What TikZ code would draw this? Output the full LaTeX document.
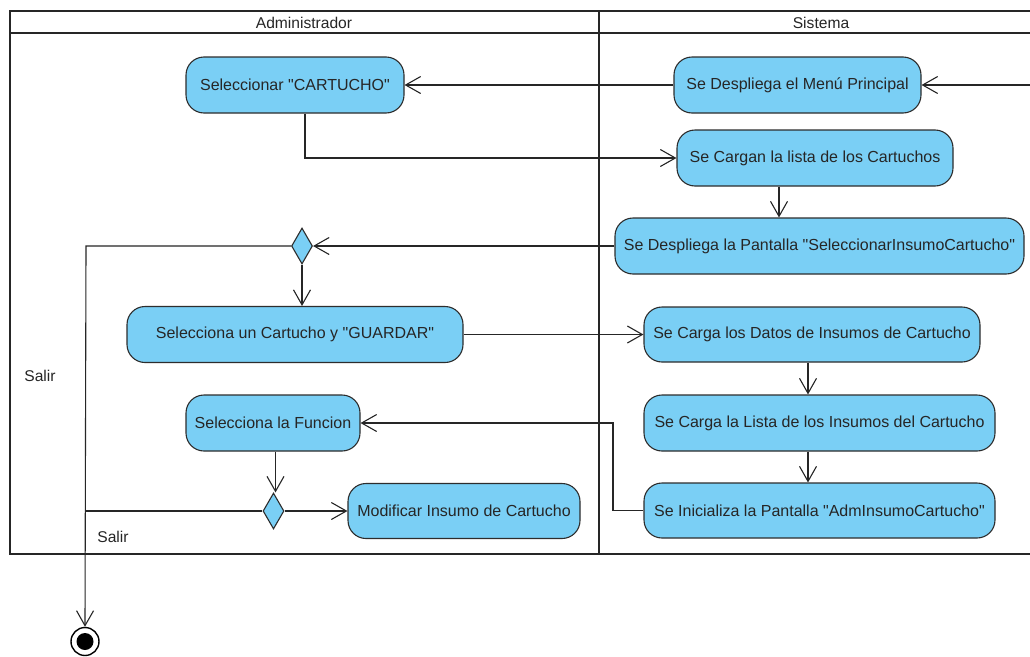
\documentclass[tikz,border=0pt]{standalone}
\usepackage{fontspec}
\setmainfont{Liberation Sans}[Ligatures=TeXOff]
\usetikzlibrary{arrows.meta,shapes.geometric}
\definecolor{actfill}{RGB}{122,207,245}
\definecolor{actdraw}{RGB}{45,45,45}
\newcommand{\dq}{\char"22\relax}
\begin{document}
\begin{tikzpicture}[x=1pt,y=-1pt,
  lane/.style={line width=2.6pt,black!85},
  act/.style={rounded corners=18pt,draw=actdraw,fill=actfill,line width=1.1pt,
    minimum height=56pt,inner sep=0pt,font=\fontsize{16}{19}\selectfont,text=black!85},
  dec/.style={diamond,draw=actdraw,fill=actfill,line width=1.1pt,inner sep=0pt,
    minimum width=21pt,minimum height=36pt,aspect=0.58},
  flow/.style={line width=1.1pt,black!85,-{Straight Barb[length=15pt,width=17pt,line width=1.1pt]}},
  plain/.style={line width=1.1pt,black!85},
  lbl/.style={font=\fontsize{15.6}{18}\selectfont,text=black!85,inner sep=0pt}]
\useasboundingbox (0,0) rectangle (1030,656);
\fill[white] (0,0) rectangle (1030,656);
% swimlanes
\draw[lane] (1030,11) -- (10,11) -- (10,554) -- (1030,554);
\draw[lane] (10,33) -- (1030,33);
\draw[lane] (599,11) -- (599,554);
\node[lbl] (hadm) at (304,23) {Administrador};
\node[lbl] (hsis) at (821,23) {Sistema};
% activities
\node[act,minimum width=218pt] (selcart) at (295,85) {Seleccionar \dq CARTUCHO\dq};
\node[act,minimum width=247pt] (menu) at (797.5,85) {Se Despliega el Menú Principal};
\node[act,minimum width=276pt] (cargan) at (815,158) {Se Cargan la lista de los Cartuchos};
\node[act,minimum width=409pt] (pantsel) at (819.5,246) {Se Despliega la Pantalla \dq SeleccionarInsumoCartucho\dq};
\node[dec] (d1) at (302,246) {};
\node[act,minimum width=336pt] (guardar) at (295,334.5) {Selecciona un Cartucho y \dq GUARDAR\dq};
\node[act,minimum width=336pt,minimum height=55pt] (datos) at (812,334.5) {Se Carga los Datos de Insumos de Cartucho};
\node[act,minimum width=351pt] (lista) at (819.5,423) {Se Carga la Lista de los Insumos del Cartucho};
\node[act,minimum width=174pt] (func) at (273,423) {Selecciona la Funcion};
\node[act,minimum width=351pt,minimum height=55pt] (inic) at (819.5,510.5) {Se Inicializa la Pantalla \dq AdmInsumoCartucho\dq};
\node[dec] (d2) at (273.5,511) {};
\node[act,minimum width=232pt,minimum height=55pt] (modif) at (464,511) {Modificar Insumo de Cartucho};
% final node
\node[circle,draw=black,line width=1.4pt,minimum size=28pt,inner sep=0pt] (fin) at (85,641.5) {};
\fill[black] (fin.center) circle (8.5pt);
% labels
\node[lbl] (salir1) at (40,376) {Salir};
\node[lbl] (salir2) at (113,537) {Salir};
% helper coordinates
\coordinate (inR) at (1030,85);
\coordinate (k1) at (305,158);
\coordinate (k2) at (86,246);
\coordinate (k3) at (613,510.5);
\coordinate (k4) at (613,423);
\coordinate (k5) at (86,511);
% connectors
\draw[flow] (inR) -- (menu.east);
\draw[flow] (menu.west) -- (selcart.east);
\draw[flow] (selcart.south -| k1) -- (k1) -- (cargan.west);
\draw[flow] (cargan.south -| 779,0) -- (pantsel.north -| 779,0);
\draw[flow] (pantsel.west) -- (d1.east);
\draw[flow] (d1.south) -- (guardar.north -| d1.south);
\draw[flow] (d1.west) -- (k2) -- (fin.north);
\draw[flow] (guardar.east) -- (datos.west);
\draw[flow] (datos.south -| 808,0) -- (lista.north -| 808,0);
\draw[flow] (lista.south -| 808,0) -- (inic.north -| 808,0);
\draw[flow] (inic.west) -- (k3) -- (k4) -- (func.east);
\draw[flow] (func.south -| 275.5,0) -- (d2.north -| 275.5,0);
\draw[flow] (d2.east) -- (modif.west);
\draw[plain] (d2.west) -- (k5);
\end{tikzpicture}
\end{document}
